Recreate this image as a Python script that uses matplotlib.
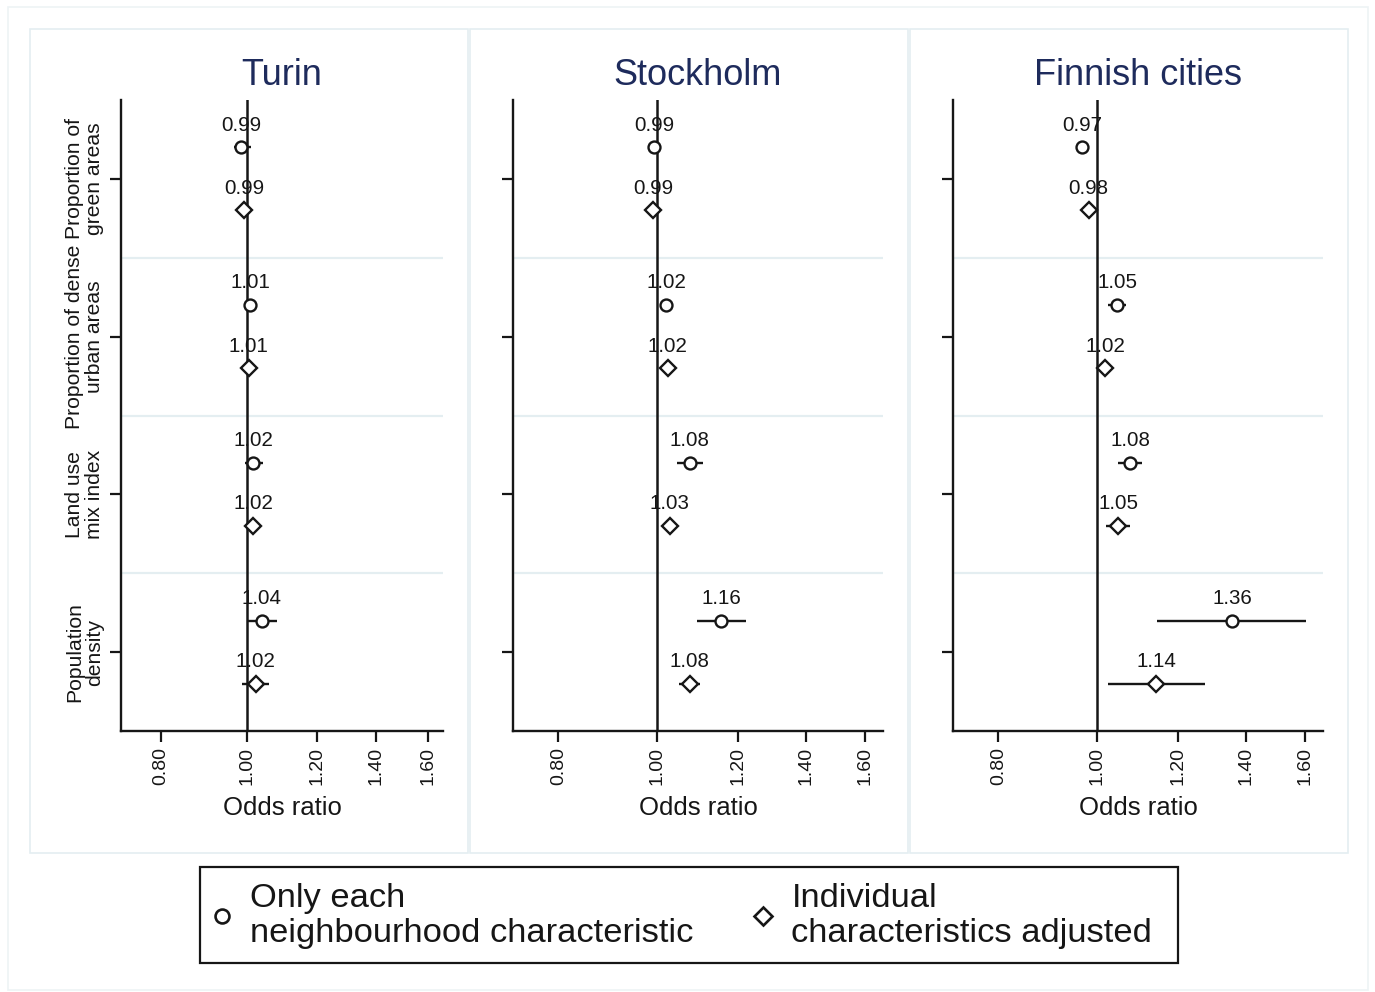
import matplotlib
matplotlib.use('Agg')
import matplotlib.pyplot as plt
import matplotlib.transforms as mtransforms
from matplotlib.lines import Line2D
from matplotlib.patches import Rectangle

plt.rcParams['font.family'] = ['Liberation Sans', 'DejaVu Sans']

# ---------------- data ----------------
cities = ['Turin', 'Stockholm', 'Finnish cities']
characteristics = ['Proportion of\ngreen areas', 'Proportion of dense\nurban areas',
                   'Land use\nmix index', 'Population\ndensity']
series_labels = ['Only each\nneighbourhood characteristic',
                 'Individual\ncharacteristics adjusted']
x_ticks = [0.80, 1.00, 1.20, 1.40, 1.60]
x_tick_labels = ['0.80', '1.00', '1.20', '1.40', '1.60']

# order: green areas, dense urban areas, land use mix, population density
turin_or_only = [0.986, 1.009, 1.018, 1.040]
turin_lo_only = [0.967, 0.999, 0.995, 1.001]
turin_hi_only = [1.012, 1.019, 1.043, 1.082]
turin_or_adj = [0.994, 1.006, 1.017, 1.024]
turin_lo_adj = [0.983, 0.996, 1.002, 0.988]
turin_hi_adj = [1.005, 1.017, 1.031, 1.060]

stock_or_only = [0.993, 1.021, 1.076, 1.156]
stock_lo_only = [0.985, 1.012, 1.045, 1.093]
stock_hi_only = [1.002, 1.030, 1.109, 1.221]
stock_or_adj = [0.991, 1.024, 1.029, 1.076]
stock_lo_adj = [0.982, 1.013, 1.016, 1.050]
stock_hi_adj = [1.000, 1.035, 1.043, 1.101]

finn_or_only = [0.966, 1.046, 1.077, 1.356]
finn_lo_only = [0.957, 1.025, 1.049, 1.145]
finn_hi_only = [0.975, 1.067, 1.106, 1.602]
finn_or_adj = [0.981, 1.018, 1.049, 1.142]
finn_lo_adj = [0.970, 1.006, 1.021, 1.024]
finn_hi_adj = [0.992, 1.031, 1.077, 1.276]

panels = [
    (turin_or_only, turin_lo_only, turin_hi_only, turin_or_adj, turin_lo_adj, turin_hi_adj),
    (stock_or_only, stock_lo_only, stock_hi_only, stock_or_adj, stock_lo_adj, stock_hi_adj),
    (finn_or_only, finn_lo_only, finn_hi_only, finn_or_adj, finn_lo_adj, finn_hi_adj),
]

# ---------------- layout ----------------
W, H = 1375, 992
fig = plt.figure(figsize=(W / 100, H / 100), dpi=100)
fig.patch.set_facecolor('white')

def fx(px):
    return px / W

def fy(py):
    return 1 - py / H

ax_lr = [(121, 443), (513, 883), (953, 1323)]
ax_top, ax_bot = 100, 731
panel_lr = [(30, 468), (470, 908), (910, 1348)]
box_col = '#e4eef1'
ink = '#161616'
title_col = '#1e2b5c'

# outer frame and panel frames
fig.patches.append(Rectangle((fx(8), fy(990)), fx(1368) - fx(8), fy(7) - fy(990),
                             transform=fig.transFigure, fill=False, ec='#edf3f5', lw=1.2))
for (l, r) in panel_lr:
    fig.patches.append(Rectangle((fx(l), fy(853)), fx(r) - fx(l), fy(29) - fy(853),
                                 transform=fig.transFigure, fill=False, ec=box_col, lw=1.2))

markers = ['o', 'D']
msizes = [8.6, 8.0]
offsets = [-0.2, 0.2]
ypos_base = list(range(len(characteristics)))

for k, (city, data) in enumerate(zip(cities, panels)):
    l, r = ax_lr[k]
    ax = fig.add_axes([fx(l), fy(ax_bot), fx(r) - fx(l), fy(ax_top) - fy(ax_bot)])
    ax.set_xscale('log')
    ax.set_xlim(0.722, 1.665)
    ax.set_ylim(3.5, -0.5)
    for s in ['top', 'right']:
        ax.spines[s].set_visible(False)
    for s in ['left', 'bottom']:
        ax.spines[s].set_linewidth(1.7)
        ax.spines[s].set_color(ink)

    for ysep in [0.5, 1.5, 2.5]:
        ax.axhline(ysep, color=box_col, lw=1.6, zorder=0)
    ax.axvline(1.0, color=ink, lw=1.8, zorder=2.5)

    series = [(data[0], data[1], data[2]), (data[3], data[4], data[5])]
    for j, (ors, los, his) in enumerate(series):
        ys = [b + offsets[j] for b in ypos_base]
        xerr = [[o - lo for o, lo in zip(ors, los)], [hi - o for o, hi in zip(ors, his)]]
        ax.errorbar(ors, ys, xerr=xerr, fmt=markers[j], ms=msizes[j], mfc='white',
                    mec=ink, mew=1.7, ecolor=ink, elinewidth=1.7, capsize=0, zorder=4)
        for o, yv in zip(ors, ys):
            ax.annotate(f'{o:.2f}', (o, yv), xytext=(0, 12.0), textcoords='offset points',
                        ha='center', va='baseline', fontsize=14.8, color=ink, zorder=1.5)

    ax.set_xticks(x_ticks)
    ax.set_xticklabels(x_tick_labels, rotation=90, fontsize=14, color=ink)
    ax.minorticks_off()
    ax.tick_params(axis='x', direction='out', length=8, width=1.6, pad=3.6, colors=ink)
    ax.set_yticks(ypos_base)
    if k == 0:
        ax.set_yticklabels(characteristics, rotation=90, fontsize=15.2, va='center',
                           ha='right', multialignment='center', color=ink)
        for t in ax.get_yticklabels():
            t.set_linespacing(1.1)
    else:
        ax.set_yticklabels([])
    ax.tick_params(axis='y', direction='out', length=8, width=1.6, pad=4, colors=ink)

    ax.set_title(city, fontsize=26, color=title_col, pad=11)
    ax.text(0.5, fy(815), 'Odds ratio',
            transform=mtransforms.blended_transform_factory(ax.transAxes, fig.transFigure),
            ha='center', va='baseline', fontsize=18.5, color=ink)

# legend
handles = [Line2D([], [], marker='o', ls='none', ms=10, mfc='white', mec=ink, mew=1.9),
           Line2D([], [], marker='D', ls='none', ms=9.5, mfc='white', mec=ink, mew=1.9)]
fs = 24.8
leg = fig.legend(handles, series_labels, loc='center left',
                 bbox_to_anchor=(fx(208.2), fy(916)), ncol=2, frameon=False,
                 fontsize=fs, handlelength=0.8, handletextpad=0.415, columnspacing=1.63,
                 borderpad=0, borderaxespad=0)
for t in leg.get_texts():
    t.set_linespacing(1.15)
    t.set_color(ink)
fig.patches.append(Rectangle((fx(200), fy(963)), fx(1178) - fx(200), fy(867) - fy(963),
                             transform=fig.transFigure, fill=False, ec=ink, lw=1.6))

fig.savefig('out.png', dpi=100, facecolor='white')
